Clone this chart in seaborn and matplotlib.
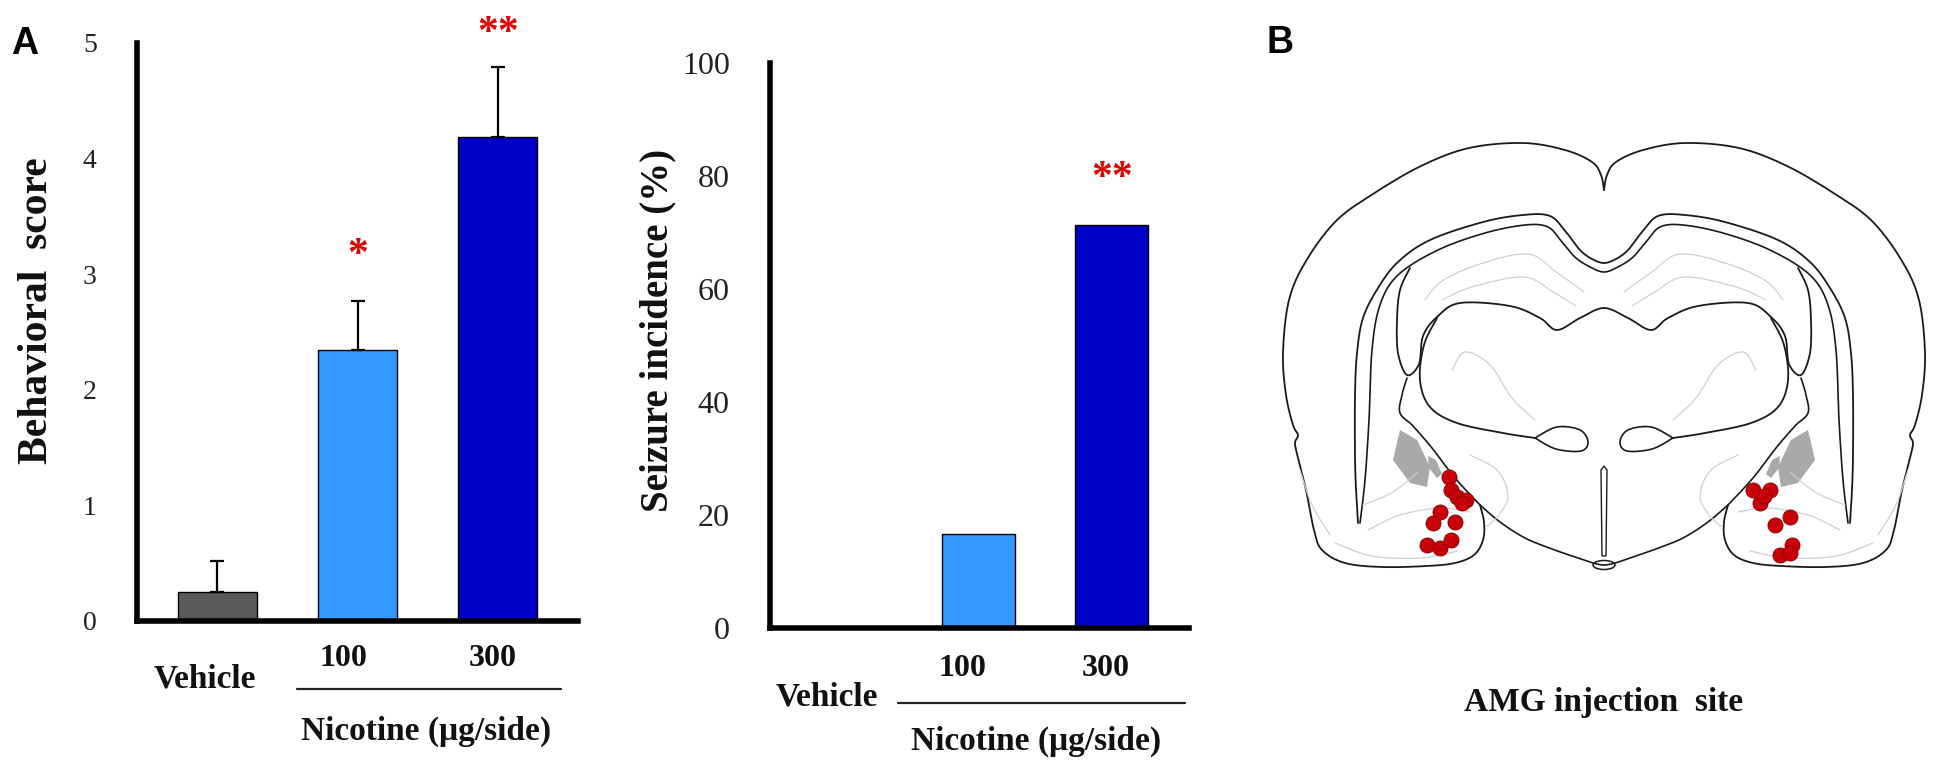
import numpy as np
import matplotlib
matplotlib.use("Agg")
import matplotlib.pyplot as plt
import seaborn as sns
from matplotlib.lines import Line2D
from matplotlib.patches import Polygon, Ellipse

# ---------------- data ----------------
categories = ["Vehicle", "100", "300"]
behavior_score = [0.25, 2.34, 4.19]
behavior_sem = [0.27, 0.43, 0.60]
seizure_incidence = [0.0, 16.7, 71.4]
bar_colors = ["#5a5a5a", "#3399ff", "#0000c8"]
behavior_yticks = [0, 1, 2, 3, 4, 5]
seizure_yticks = [0, 20, 40, 60, 80, 100]
behavior_stars = ["", "*", "**"]
behavior_star_y = [0, 3.16, 5.08]
seizure_stars = ["", "", "**"]
seizure_star_y = [0, 0, 79.5]
xlabel_text = "Nicotine (\u03bcg/side)"
ylabel_left = "Behavioral  score"
ylabel_right = "Seizure incidence (%)"
brain_caption = "AMG injection  site"

# injection sites (pixel coordinates of the atlas drawing)
dots_x = [1449, 1451, 1457, 1466, 1462, 1440, 1433, 1455, 1427, 1440, 1451,
          1753, 1770, 1760, 1764, 1790, 1775, 1792, 1780, 1790]
dots_y = [477, 490, 497, 500, 503, 512, 523, 522, 545, 548, 540,
          490, 490, 503, 496, 517, 525, 545, 555, 553]

# ---------------- style ----------------
sns.set_theme(style="white")
plt.rcParams["font.family"] = ["Liberation Serif", "DejaVu Serif"]

W, H = 1942, 769
fig = plt.figure(figsize=(W / 100, H / 100), dpi=100)
fig.patch.set_facecolor("white")


def fx(x):
    return x / W


def fy(y):
    return 1 - y / H


def style_axes(ax, tick_size):
    sns.despine(ax=ax)
    for s in ("left", "bottom"):
        ax.spines[s].set_linewidth(4)
        ax.spines[s].set_color("black")
    ax.tick_params(axis="y", length=0, pad=29, labelsize=tick_size, colors="#222222")
    ax.set_xticks([])
    ax.set_xlabel("")
    ax.set_ylabel("")
    ax.set_facecolor("white")


# ---------------- panel A left ----------------
ax1 = fig.add_axes([fx(137), fy(621), fx(578 - 137), (621 - 43) / H])
sns.barplot(x=categories, y=behavior_score, hue=categories, palette=bar_colors,
            saturation=1, width=0.563, edgecolor="black", linewidth=1,
            legend=False, ax=ax1, order=categories, hue_order=categories)
ax1.errorbar(x=np.arange(len(categories)), y=behavior_score,
             yerr=[np.zeros(len(categories)), behavior_sem], fmt="none",
             ecolor="black", elinewidth=1.6, capsize=5, capthick=1.6, zorder=1)
ax1.set_xlim(-0.57, 2.57)
ax1.set_ylim(0, 5)
ax1.set_yticks(behavior_yticks)
style_axes(ax1, 20)
for i, (s, y) in enumerate(zip(behavior_stars, behavior_star_y)):
    if s:
        ax1.text(i, y, s, color="#e00000", fontsize=30, fontweight="bold",
                 ha="center", va="center", clip_on=False)

# ---------------- panel A right ----------------
ax2 = fig.add_axes([fx(770), fy(628), fx(1189 - 770), (628 - 63) / H])
sns.barplot(x=categories, y=seizure_incidence, hue=categories, palette=bar_colors,
            saturation=1, width=0.55, edgecolor="black", linewidth=1,
            legend=False, ax=ax2, order=categories, hue_order=categories)
ax2.set_xlim(-0.571, 2.58)
ax2.set_ylim(0, 100)
ax2.set_yticks(seizure_yticks)
style_axes(ax2, 23)
for i, (s, y) in enumerate(zip(seizure_stars, seizure_star_y)):
    if s:
        ax2.text(i, y, s, color="#e00000", fontsize=30, fontweight="bold",
                 ha="center", va="center", clip_on=False)

# ---------------- category labels ----------------
lab = dict(fontweight="bold", color="#111111", ha="center", va="center")
# left
fig.text(fx(205), fy(679), categories[0], fontsize=24, **lab)
fig.text(fx(343), fy(659), categories[1], fontsize=23, **lab)
fig.text(fx(493), fy(659), categories[2], fontsize=23, **lab)
fig.add_artist(Line2D([fx(297), fx(561)], [fy(689), fy(689)], color="#222222", lw=1.6))
fig.text(fx(426), fy(731), xlabel_text, fontsize=24, **lab)
# right
fig.text(fx(827), fy(697), categories[0], fontsize=24, **lab)
fig.text(fx(962), fy(669), categories[1], fontsize=23, **lab)
fig.text(fx(1106), fy(669), categories[2], fontsize=23, **lab)
fig.add_artist(Line2D([fx(898), fx(1185)], [fy(703), fy(703)], color="#222222", lw=1.6))
fig.text(fx(1036), fy(741), xlabel_text, fontsize=24, **lab)

# y labels
fig.text(fx(37), fy(311), ylabel_left, rotation=90, fontsize=30, **lab)
fig.text(fx(658), fy(330), ylabel_right, rotation=90, fontsize=28, **lab)

# panel letters
fig.text(fx(25), fy(44), "A", fontsize=27, fontweight="bold", family="Liberation Sans",
         ha="center", va="center", color="black")
fig.text(fx(1280), fy(43), "B", fontsize=27, fontweight="bold", family="Liberation Sans",
         ha="center", va="center", color="black")

# ---------------- panel B: atlas drawing ----------------
axb = fig.add_axes([fx(1250), fy(620), fx(1942 - 1250), (620 - 100) / H])
axb.set_xlim(1250, 1942)
axb.set_ylim(620, 100)
axb.axis("off")
MID = 1604


def smooth(pts, n=14):
    P = np.asarray(pts, float)
    P = np.vstack([P[0], P, P[-1]])
    out = []
    t = np.linspace(0, 1, n, endpoint=False)[:, None]
    for i in range(1, len(P) - 2):
        p0, p1, p2, p3 = P[i - 1], P[i], P[i + 1], P[i + 2]
        out.append(0.5 * ((2 * p1) + (-p0 + p2) * t + (2 * p0 - 5 * p1 + 4 * p2 - p3) * t ** 2
                          + (-p0 + 3 * p1 - 3 * p2 + p3) * t ** 3))
    out.append(P[-2][None])
    return np.vstack(out)


def mir(pts):
    return [(2 * MID - x, y) for x, y in pts]


def draw(pts, color="#1a1a1a", lw=1.1, join=False):
    if join:
        full = list(pts) + list(reversed(mir(pts)))[1:]
        c = smooth(full)
        axb.plot(c[:, 0], c[:, 1], color=color, lw=lw, solid_capstyle="round")
        return
    for p in (pts, mir(pts)):
        c = smooth(p)
        axb.plot(c[:, 0], c[:, 1], color=color, lw=lw, solid_capstyle="round")


outer_L = [(1604, 190), (1601, 175), (1592, 162), (1565, 150), (1523, 143), (1469, 148),
           (1421, 166), (1373, 194), (1336, 221), (1306, 261), (1289, 300), (1283, 353),
           (1286, 395), (1293, 425), (1298, 435), (1295, 443), (1298, 458), (1306, 490),
           (1314, 530), (1322, 550), (1345, 563), (1382, 567), (1427, 566), (1455, 563),
           (1474, 555), (1483, 540), (1484, 522), (1480, 505)]
hypo_L = [(1480, 505), (1500, 522), (1525, 538), (1552, 549), (1578, 558), (1593, 563),
          (1604, 565)]
cortex_in_L = [(1358, 523), (1356, 490), (1355, 455), (1355, 395), (1357, 353), (1363, 318),
               (1378, 288), (1398, 262), (1430, 240), (1483, 222), (1523, 215), (1550, 216),
               (1566, 232), (1580, 250), (1592, 259), (1604, 263)]
ext_caps_L = [(1360, 523), (1365, 480), (1369, 420), (1372, 350), (1380, 305), (1398, 275),
              (1438, 250), (1485, 233), (1525, 225), (1548, 227), (1562, 242), (1576, 258),
              (1592, 268), (1604, 272)]
hippo_thal_top_L = [(1410, 268), (1400, 290), (1397, 320), (1398, 353), (1407, 375),
                    (1419, 364), (1423, 336), (1437, 317), (1460, 303), (1510, 306),
                    (1540, 318), (1557, 330), (1580, 318), (1604, 308)]
thal_low_L = [(1437, 318), (1424, 345), (1420, 380), (1430, 407), (1457, 423), (1503, 433),
              (1535, 438)]
ear_L = [(1535, 438), (1557, 427), (1580, 430), (1588, 442), (1581, 451), (1556, 449),
         (1535, 438)]
lobe_in_L = [(1480, 505), (1455, 478), (1432, 448), (1413, 426), (1400, 413), (1402, 395),
             (1407, 378)]
grey_L = [(1400, 430), (1417, 440), (1430, 467), (1427, 487), (1410, 483), (1393, 460)]
grey2_L = [(1428, 456), (1436, 460), (1442, 474), (1437, 478), (1429, 468)]
light_lines_L = [
    [(1425, 300), (1442, 281), (1480, 264), (1528, 254), (1556, 272), (1584, 292)],
    [(1442, 300), (1472, 287), (1524, 277), (1553, 292), (1576, 306)],
    [(1452, 370), (1465, 352), (1490, 365), (1512, 398), (1535, 420)],
    [(1470, 455), (1497, 470), (1508, 495), (1499, 515), (1486, 527)],
    [(1335, 543), (1372, 556), (1420, 558), (1458, 551)],
    [(1363, 505), (1393, 492), (1418, 472)],
    [(1368, 530), (1400, 515), (1440, 508), (1470, 512)],
    [(1300, 470), (1312, 505), (1330, 535)],
]

draw(outer_L, lw=1.3)
draw(hypo_L, lw=1.2, join=True)
draw(cortex_in_L, lw=1.3, join=True)
draw(ext_caps_L, lw=1.2, join=True)
draw(hippo_thal_top_L, lw=1.3, join=True)
draw(thal_low_L, lw=1.3)
draw(ear_L, lw=1.2)
draw(lobe_in_L, lw=1.2)
for ll in light_lines_L:
    draw(ll, color="#d0d0d0", lw=0.9)
for g in (grey_L, grey2_L):
    axb.add_patch(Polygon(g, closed=True, facecolor="#a9a9a9", edgecolor="none"))
    axb.add_patch(Polygon(mir(g), closed=True, facecolor="#a9a9a9", edgecolor="none"))
# midline
axb.add_patch(Polygon([(1601, 470), (1604, 466), (1607, 470), (1606, 556), (1602, 556)],
                      closed=True, facecolor="white", edgecolor="#1a1a1a", lw=1.0))
axb.add_patch(Ellipse((1604, 565), 22, 9, facecolor="white", edgecolor="#1a1a1a", lw=1.1))
# injection sites
axb.scatter(dots_x, dots_y, s=118, color="#c8000a", edgecolor="#8a0000", linewidth=0.6,
            zorder=5)

fig.text(fx(1604), fy(702), brain_caption, fontsize=24, **lab)

fig.savefig("out.png", dpi=100, facecolor="white")
